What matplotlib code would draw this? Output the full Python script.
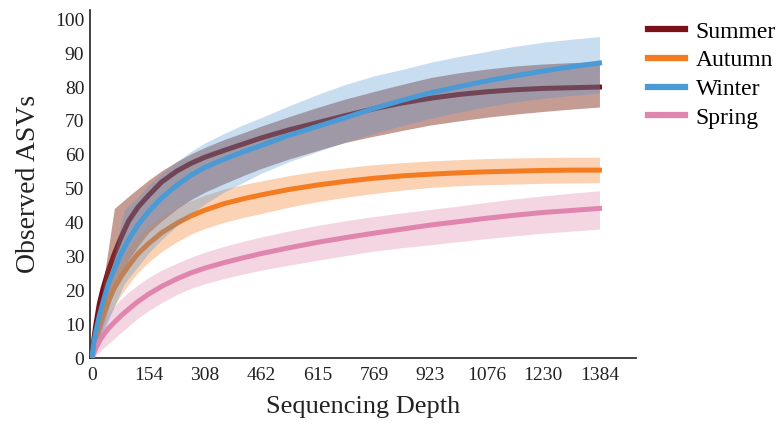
import numpy as np
import matplotlib
matplotlib.use("Agg")
import matplotlib.pyplot as plt

plt.rcParams['font.family'] = ['Liberation Serif', 'DejaVu Serif']

# sequencing depths the curves were sampled at
depth = [0, 5, 10, 20, 30, 45, 60, 80, 100, 125, 154, 190, 231, 270, 308, 360,
         415, 462, 538, 615, 692, 769, 846, 923, 1000, 1076, 1153, 1230, 1307, 1384]

summer = [0, 5.5, 9.5, 16, 20.5, 26, 30.5, 35.8, 40.5, 44.5, 48, 52, 55.2, 57.5,
          59.3, 61.3, 63.3, 65, 67.4, 69.5, 71.6, 73.6, 75.3, 76.7, 77.8, 78.6,
          79.2, 79.6, 79.8, 80]
winter = [0, 4.5, 7.5, 12.5, 16.5, 22, 26, 31, 35, 39.3, 43.2, 47.3, 51, 54,
          56.3, 58.7, 61, 62.8, 65.8, 68.4, 71, 73.7, 76.1, 78.3, 80.1, 81.8,
          83.3, 84.7, 86, 87.1]
autumn = [0, 3, 5.5, 9.5, 12.8, 17, 20.5, 24.2, 27.3, 30.8, 33.8, 37, 39.8, 42,
          43.7, 45.6, 47.1, 48.2, 49.8, 51.1, 52.2, 53.1, 53.8, 54.3, 54.7, 55,
          55.2, 55.4, 55.5, 55.5]
spring = [0, 1.5, 2.8, 5, 6.7, 8.8, 10.5, 12.6, 14.5, 16.7, 18.9, 21.2, 23.4,
          25.2, 26.6, 28.2, 29.7, 30.9, 32.6, 34.2, 35.6, 36.9, 38.1, 39.3, 40.3,
          41.3, 42.2, 43, 43.6, 44.2]

# confidence bands
autumn_hi = [0, 5, 8.5, 13.5, 17.3, 21.8, 25.5, 29.2, 32.3, 35.8, 38.8, 41.8,
             44.5, 46.5, 48.1, 49.9, 51.3, 52.3, 53.9, 55.2, 56.2, 57.1, 57.7,
             58.2, 58.6, 58.9, 59.1, 59.2, 59.3, 59.3]
autumn_lo = [0, 1.3, 2.7, 5.5, 8.3, 12.2, 15.3, 18.8, 21.8, 25.3, 28.3, 31.5,
             34.3, 36.6, 38.3, 40.1, 41.6, 42.7, 44.6, 46.2, 47.5, 48.6, 49.6,
             50.4, 50.9, 51.2, 51.4, 51.6, 51.7, 51.8]

spring_hi = [0, 3, 5.2, 8.2, 10.5, 13.3, 15.3, 17.6, 19.5, 21.6, 23.8, 26, 28,
             29.8, 31.3, 33, 34.6, 35.8, 37.6, 39.2, 40.6, 41.8, 42.9, 43.9, 44.9,
             46, 47, 47.9, 48.7, 49.4]
spring_lo = [0, 0.3, 0.8, 1.8, 2.9, 4.3, 5.7, 7.6, 9.5, 11.8, 14, 16.4, 18.8,
             20.6, 22, 23.5, 24.9, 26, 27.5, 28.9, 30.3, 31.6, 32.6, 33.5, 34.4,
             35.3, 36.1, 36.9, 37.5, 38.1]

summer_band_depth = [0, 61, 100, 125, 154, 190, 231, 270, 308, 360, 415, 462, 538,
                     615, 692, 769, 846, 923, 1000, 1076, 1153, 1230, 1307, 1384]
summer_hi = [0, 44.2, 47.8, 50, 52.5, 55.3, 58, 60.3, 62.2, 64.5, 66.6, 68.5, 71.3,
             74, 76.5, 78.7, 80.8, 82.8, 84.2, 85.3, 86.2, 86.8, 87.2, 87.5]
summer_lo = [0, 20, 29, 33, 37, 40.5, 44, 46.8, 49, 51.5, 54, 56, 58.8,
             61.3, 63.7, 65.5, 67.2, 68.8, 70, 71.1, 72, 72.8, 73.5, 74.1]

winter_band_depth = [0, 88, 125, 154, 190, 231, 270, 308, 360, 415, 462, 538,
                     615, 692, 769, 846, 923, 1000, 1076, 1153, 1230, 1307, 1384]
winter_hi = [0, 43.7, 47.5, 51, 54.5, 58, 61, 63.5, 66.3, 69, 71, 74.5,
             77.8, 80.8, 83.3, 85.2, 87.3, 89, 90.5, 92, 93.2, 94.1, 94.9]
winter_lo = [0, 22, 27, 31, 35, 39, 42.5, 45.5, 49, 52, 54.6, 58,
             61, 63.8, 66.3, 68.6, 70.8, 72.6, 74.2, 75.6, 76.7, 77.5, 78.2]

xticks = [0, 154, 308, 462, 615, 769, 923, 1076, 1230, 1384]

fig = plt.figure(figsize=(7.82, 4.24), dpi=100)
ax = fig.add_axes([0.115, 0.155, 0.698, 0.822])

lw = 3.6
# summer line sits under the bands, the others on top
ax.plot(depth, summer, color='#7b1019', lw=lw, zorder=1, label='Summer')
ax.fill_between(summer_band_depth, summer_lo, summer_hi, color='#8b3a2b', alpha=0.5, lw=0, zorder=2)
ax.fill_between(depth, autumn_lo, autumn_hi, color='#f7893a', alpha=0.38, lw=0, zorder=2)
ax.plot(depth, autumn, color='#f37c22', lw=lw, zorder=3, label='Autumn')
ax.fill_between(winter_band_depth, winter_lo, winter_hi, color='#4a8fd0', alpha=0.3, lw=0, zorder=3)
ax.plot(depth, winter, color='#4a9ad6', lw=lw, zorder=4, label='Winter')
ax.fill_between(depth, spring_lo, spring_hi, color='#e08bb0', alpha=0.35, lw=0, zorder=2)
ax.plot(depth, spring, color='#e085ad', lw=lw, zorder=3, label='Spring')

ax.set_xlim(-5.5, 1483)
ax.set_ylim(0, 102.8)
ax.set_xticks(xticks)
ax.set_yticks(range(0, 101, 10))
ax.tick_params(length=0, labelsize=14, colors='#222222')
ax.tick_params(axis='x', pad=6)
ax.tick_params(axis='y', pad=4)

for s in ['top', 'right']:
    ax.spines[s].set_visible(False)
for s in ['left', 'bottom']:
    ax.spines[s].set_color('#333333')
    ax.spines[s].set_linewidth(1.3)

ax.set_xlabel('Sequencing Depth', fontsize=19, color='#222222', labelpad=9)
ax.set_ylabel('Observed ASVs', fontsize=20, color='#222222', labelpad=10)

handles, labels = ax.get_legend_handles_labels()
leg = fig.legend(handles, labels, loc='upper left', bbox_to_anchor=(0.829, 0.95),
                 frameon=False, fontsize=17, handlelength=1.55, handletextpad=0.45,
                 labelspacing=0.3, borderpad=0, borderaxespad=0)
for line in leg.get_lines():
    line.set_linewidth(4.5)

plt.savefig('out.png', dpi=100)
